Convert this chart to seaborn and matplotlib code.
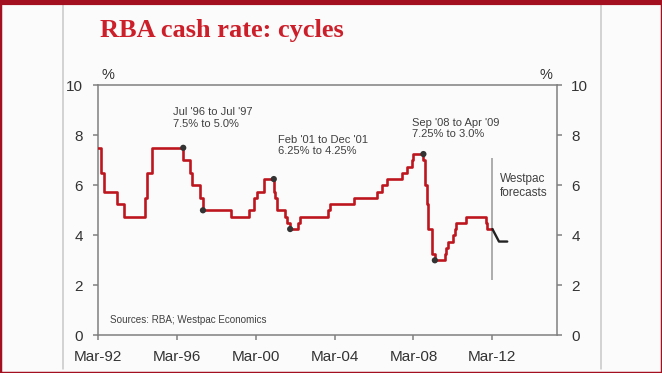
import matplotlib
matplotlib.use("agg")
import matplotlib.pyplot as plt
from matplotlib.lines import Line2D
from matplotlib.patches import Rectangle
import pandas as pd
import seaborn as sns

# RBA cash rate: month of each change and the new rate (step series)
rate_months = ["1992-03", "1992-05", "1992-07", "1993-03", "1993-07", "1994-08",
               "1994-09", "1994-12", "1996-07", "1996-11", "1996-12", "1997-05",
               "1997-07", "1998-12", "1999-11", "2000-02", "2000-04", "2000-08",
               "2001-02", "2001-03", "2001-04", "2001-09", "2001-10", "2001-12",
               "2002-05", "2002-06", "2003-11", "2003-12", "2005-03", "2006-05",
               "2006-08", "2006-11", "2007-08", "2007-11", "2008-02", "2008-03",
               "2008-09", "2008-10", "2008-11", "2008-12", "2009-02", "2009-04",
               "2009-10", "2009-11", "2009-12", "2010-03", "2010-04", "2010-05",
               "2010-11", "2011-11", "2011-12", "2012-03"]
rate_values = [7.5, 6.5, 5.75, 5.25, 4.75, 5.5,
               6.5, 7.5, 7.0, 6.5, 6.0, 5.5,
               5.0, 4.75, 5.0, 5.5, 5.75, 6.25,
               5.75, 5.5, 5.0, 4.75, 4.5, 4.25,
               4.5, 4.75, 5.0, 5.25, 5.5, 5.75,
               6.0, 6.25, 6.5, 6.75, 7.0, 7.25,
               7.0, 6.0, 5.25, 4.25, 3.25, 3.0,
               3.25, 3.5, 3.75, 4.0, 4.25, 4.5,
               4.75, 4.5, 4.25, 4.25]

# Westpac forecasts
forecast_months = ["2012-03", "2012-05", "2012-07", "2012-12"]
forecast_values = [4.25, 4.0, 3.75, 3.75]

# cycle turning points
turn_months = ["1996-07", "1997-07", "2001-02", "2001-12", "2008-09", "2009-04"]
turn_values = [7.5, 5.0, 6.25, 4.25, 7.25, 3.0]

notes = ["Jul '96 to Jul '97\n7.5% to 5.0%",
         "Feb '01 to Dec '01\n6.25% to 4.25%",
         "Sep '08 to Apr '09\n7.25% to 3.0%"]

tick_months = ["1992-03", "1996-03", "2000-03", "2004-03", "2008-03", "2012-03"]
tick_labels = ["Mar-92", "Mar-96", "Mar-00", "Mar-04", "Mar-08", "Mar-12"]
y_ticks = [0, 2, 4, 6, 8, 10]

rates = pd.DataFrame({"date": pd.to_datetime(rate_months), "rate": rate_values})
fcst = pd.DataFrame({"date": pd.to_datetime(forecast_months), "rate": forecast_values})
turns = pd.DataFrame({"date": pd.to_datetime(turn_months), "rate": turn_values})

sns.set_style("white")
plt.rcParams["font.family"] = ["Liberation Sans", "DejaVu Sans"]

fig = plt.figure(figsize=(6.62, 3.73), dpi=100, facecolor="#fbfbfb")
ax = fig.add_axes([0.1476, 0.1011, 0.6934, 0.6702], facecolor="#fbfbfb")

sns.lineplot(data=rates, x="date", y="rate", ax=ax, color="#bd161f",
             linewidth=1.9, drawstyle="steps-post", legend=False, zorder=3)
sns.lineplot(data=fcst, x="date", y="rate", ax=ax, color="#222222",
             linewidth=1.7, legend=False, zorder=3)
sns.scatterplot(data=turns, x="date", y="rate", ax=ax, color="#333333",
                s=20, edgecolor="none", zorder=4, legend=False)

# forecast divider
ax.vlines(pd.Timestamp(forecast_months[0]), 2.2, 7.1, color="#a6a6a6",
          linewidth=1.3, zorder=2)

ax.set_xlim(pd.Timestamp("1992-03-01"), pd.Timestamp("2015-06-05"))
ax.set_ylim(0, 10)
ax.set_xticks(pd.to_datetime(tick_months))
ax.set_xticklabels(tick_labels)
ax.set_yticks(y_ticks)
ax.set_xlabel("")
ax.set_ylabel("")

for s in ax.spines.values():
    s.set_color("#808080")
    s.set_linewidth(1.1)
ax.tick_params(axis="both", direction="out", length=3.5, width=1.1,
               color="#808080", labelsize=11, labelcolor="#333333")
ax.tick_params(axis="y", left=True, right=True, labelleft=True,
               labelright=True, pad=7)
ax.tick_params(axis="x", bottom=True, pad=7)

txt = dict(fontsize=8, color="#404040", transform=ax.transAxes,
           va="center", ha="left", linespacing=1.2)
ax.text(0.164, 0.869, notes[0], **txt)
ax.text(0.393, 0.759, notes[1], **txt)
ax.text(0.684, 0.828, notes[2], **txt)
ax.text(0.876, 0.597, "Westpac\nforecasts", fontsize=8.5, color="#404040",
        transform=ax.transAxes, va="center", ha="left", linespacing=1.3)
ax.text(0.027, 0.061, "Sources: RBA; Westpac Economics", fontsize=7.1,
        color="#404040", transform=ax.transAxes, va="center", ha="left")

fig.text(0.163, 0.799, "%", fontsize=10.5, color="#333333", ha="center", va="center")
fig.text(0.825, 0.799, "%", fontsize=10.5, color="#333333", ha="center", va="center")

fig.text(0.151, 0.901, "RBA cash rate: cycles", fontsize=19, fontweight="bold",
         family="Liberation Serif", color="#cc1f2a", ha="left", va="baseline")

# panel frame lines
for xf in (63 / 662, 601 / 662):
    fig.add_artist(Line2D([xf, xf], [0.01, 0.99], color="#c8c8c8",
                          linewidth=1.1, transform=fig.transFigure))
fig.add_artist(Rectangle((0, 0), 1, 1, transform=fig.transFigure, fill=False,
                         edgecolor="#a3101f", linewidth=2.5))
fig.add_artist(Line2D([0, 1], [0.993, 0.993], color="#a3101f", linewidth=3,
                      transform=fig.transFigure))

plt.savefig("out.png", dpi=100, facecolor=fig.get_facecolor())
